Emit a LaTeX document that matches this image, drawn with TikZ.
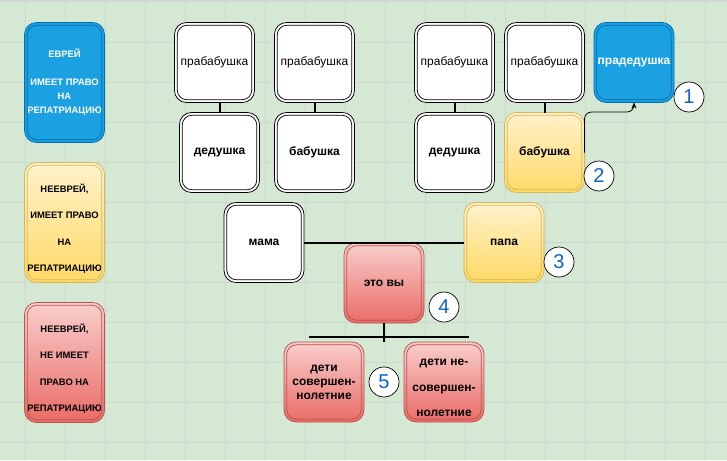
\documentclass[tikz,border=0pt]{standalone}
\usepackage{fontspec}
\setmainfont{Liberation Sans}
\usetikzlibrary{arrows.meta,calc}
\definecolor{bgc}{HTML}{D5E8D4}
\definecolor{gridc}{HTML}{CDD8CC}
\definecolor{topband}{HTML}{D4D4D4}
\definecolor{bluef}{HTML}{1BA1E2}
\definecolor{blueb}{HTML}{006EAF}
\definecolor{yelt}{HTML}{FFF2CC}
\definecolor{yelbot}{HTML}{FFD966}
\definecolor{yelb}{HTML}{D6B656}
\definecolor{redt}{HTML}{F8CECC}
\definecolor{redbot}{HTML}{EA6B66}
\definecolor{redb}{HTML}{B85450}
\definecolor{numc}{HTML}{0B63CE}
\tikzset{
  base/.style={rounded corners=12pt, minimum width=80pt, minimum height=80pt,
    inner sep=0pt, outer sep=0pt, align=center, line width=0.75pt,
    font=\fontsize{12}{14}\selectfont\bfseries},
  whitebox/.style={base, draw=black, fill=white},
  bluebox/.style={base, draw=blueb, fill=bluef, text=white},
  yellowbox/.style={base, draw=yelb, top color=yelt, bottom color=yelbot},
  redbox/.style={base, draw=redb, top color=redt, bottom color=redbot},
  legendbox/.style={minimum height=120pt},
  numcircle/.style={circle, draw=black, fill=white, minimum size=30pt, inner sep=0pt,
    text=numc, font=\fontsize{20}{20}\selectfont, line width=0.7pt},
  famline/.style={line width=2pt, black},
  arr/.style={line width=0.8pt, black, -{Stealth[length=6pt,width=5pt]}, rounded corners=7pt},
}
\newcommand\innerb[2]{\draw[#2, line width=0.75pt, rounded corners=9.5pt]
  ([xshift=2.8pt,yshift=-2.8pt]#1.north west) rectangle ([xshift=-2.8pt,yshift=2.8pt]#1.south east);}
\newcommand\lowtext[2]{\raisebox{-#1}[\height][\depth]{\begin{tabular}{@{}c@{}}#2\end{tabular}}}
\begin{document}
\begin{tikzpicture}[x=1pt,y=-1pt]
\useasboundingbox (0,0) rectangle (727,460);
\fill[bgc] (0,0) rectangle (727,460);
\foreach \gx in {25,65,...,705} \draw[gridc, line width=0.8pt] (\gx,0) -- (\gx,460);
\foreach \gy in {42,82,...,442} \draw[gridc, line width=0.8pt] (0,\gy) -- (727,\gy);
\fill[topband] (0,0) rectangle (727,2.5);

% legend
\node[bluebox, legendbox, font=\fontsize{9.4}{14}\selectfont\bfseries] (leg1) at (64.5,82.5)
  {ЕВРЕЙ\\ \\ИМЕЕТ ПРАВО\\НА\\РЕПАТРИАЦИЮ};
\node[yellowbox, legendbox, font=\fontsize{9.4}{26.5}\selectfont\bfseries] (leg2) at (64.5,222.5)
  {\lowtext{4pt}{НЕЕВРЕЙ,\\ИМЕЕТ ПРАВО\\НА\\РЕПАТРИАЦИЮ}};
\node[redbox, legendbox, font=\fontsize{9.4}{26.5}\selectfont\bfseries] (leg3) at (64.5,362.5)
  {\lowtext{4pt}{НЕЕВРЕЙ,\\НЕ ИМЕЕТ\\ПРАВО НА\\РЕПАТРИАЦИЮ}};
\innerb{leg1}{blueb}
\innerb{leg2}{yelb}
\innerb{leg3}{redb}

% tree
\node[whitebox, font=\fontsize{12}{14}\selectfont] (pb1) at (214.5,62.5) {прабабушка};
\node[whitebox, font=\fontsize{12}{14}\selectfont] (pb2) at (314.5,62.5) {прабабушка};
\node[whitebox, font=\fontsize{12}{14}\selectfont] (pb3) at (454.5,62.5) {прабабушка};
\node[whitebox, font=\fontsize{12}{14}\selectfont] (pb4) at (544.5,62.5) {прабабушка};
\node[bluebox] (pd) at (634,62.5) {прадедушка};
\node[whitebox] (d1) at (219.5,152.5) {дедушка};
\node[whitebox] (b1) at (314.5,152.5) {бабушка};
\node[whitebox] (d2) at (454.5,152.5) {дедушка};
\node[yellowbox] (b2) at (544.5,152.5) {бабушка};
\node[whitebox] (mama) at (264,242.5) {мама};
\node[yellowbox] (papa) at (504,242.5) {папа};
\node[redbox] (you) at (384,283) {это вы};
\node[redbox] (ch1) at (324,382) {дети\\совершен-\\нолетние};
\node[redbox, font=\fontsize{12}{25.5}\selectfont\bfseries] (ch2) at (444,382)
  {\lowtext{4pt}{дети не-\\совершен-\\нолетние}};

\foreach \n in {pb1,pb2,pb3,pb4,d1,b1,d2,mama} {\innerb{\n}{black}}
\innerb{pd}{blueb}
\innerb{b2}{yelb}
\innerb{papa}{yelb}
\foreach \n in {you,ch1,ch2} {\innerb{\n}{redb}}

% connectors
\draw[famline] (d1.north) -- (d1.north |- pb1.south);
\draw[famline] (b1.north) -- (b1.north |- pb2.south);
\draw[famline] (d2.north) -- (d2.north |- pb3.south);
\draw[famline] (b2.north) -- (b2.north |- pb4.south);
\draw[famline] (mama.east) -- (papa.west);
\coordinate (kl) at (309,337);
\coordinate (kr) at (469,337);
\coordinate (kj) at (384,342);
\draw[famline] (kl) -- (kr);
\draw[famline] (you.south) -- (kj);
\coordinate (bend) at (634,112);
\draw[arr] (b2.east) |- (bend) -- (pd.south);

% numbers
\node[numcircle] (n1) at (689,97) {1};
\node[numcircle] (n2) at (599,176) {2};
\node[numcircle] (n3) at (559,262) {3};
\node[numcircle] (n4) at (444,307) {4};
\node[numcircle] (n5) at (384,382) {5};
\end{tikzpicture}
\end{document}
